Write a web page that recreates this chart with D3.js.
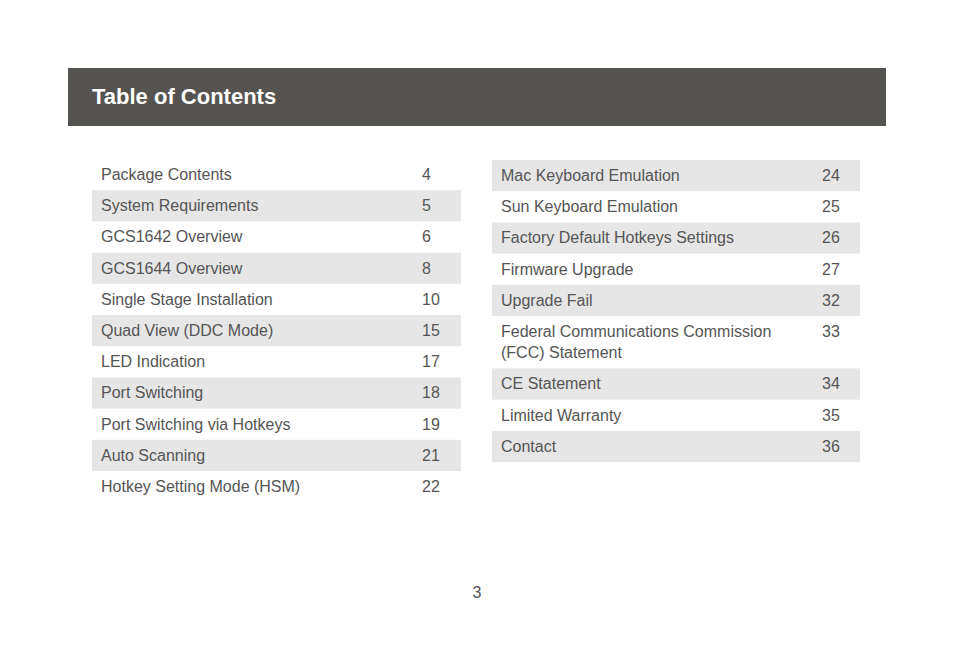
<!DOCTYPE html>
<html><head><meta charset="utf-8">
<script src="https://cdn.jsdelivr.net/npm/d3@7"></script>
<style>body{margin:0;background:#fff}text{font-family:"Liberation Sans",Arial,sans-serif}</style>
</head><body>
<svg id="page" width="954" height="665"></svg>
<script>
// left column entries
var leftTitles = ["Package Contents", "System Requirements", "GCS1642 Overview", "GCS1644 Overview",
  "Single Stage Installation", "Quad View (DDC Mode)", "LED Indication", "Port Switching",
  "Port Switching via Hotkeys", "Auto Scanning", "Hotkey Setting Mode (HSM)"];
var leftPages = [4, 5, 6, 8, 10, 15, 17, 18, 19, 21, 22];

// right column entries
var rightTitles = ["Mac Keyboard Emulation", "Sun Keyboard Emulation", "Factory Default Hotkeys Settings",
  "Firmware Upgrade", "Upgrade Fail", "Federal Communications Commission\n(FCC) Statement",
  "CE Statement", "Limited Warranty", "Contact"];
var rightPages = [24, 25, 26, 27, 32, 33, 34, 35, 36];

var svg = d3.select("#page");

svg.append("rect").attr("x", 68).attr("y", 68).attr("width", 818).attr("height", 58).attr("fill", "#55534f");
svg.append("text").attr("x", 92).attr("y", 104).attr("fill", "#fff")
  .attr("font-size", 22).attr("font-weight", "bold").text("Table of Contents");

/**
* draws one column of rows; shadeFirst decides which rows get the grey band
*/
function column(titles, pages, x0, x1, top, numX, shadeFirst) {
  var units = titles.map(function(t) { return t.split("\n").length; });
  var offs = [0];
  units.forEach(function(u, i) { offs.push(offs[i] + (u === 1 ? 1 : 1.68)); });
  var y = d3.scaleLinear().domain([0, 1]).range([top, top + 31.2]);

  var g = svg.append("g");
  titles.forEach(function(t, i) {
    var r = g.append("g");
    if ((i % 2 === 0) === shadeFirst) {
      r.append("rect").attr("x", x0).attr("y", y(offs[i])).attr("width", x1 - x0)
        .attr("height", y(offs[i + 1]) - y(offs[i])).attr("fill", "#e6e6e6");
    }
    t.split("\n").forEach(function(line, k) {
      r.append("text").attr("x", x0 + 9).attr("y", y(offs[i]) + 21 + k * 21)
        .attr("font-size", 16).attr("fill", "#555").text(line);
    });
    r.append("text").attr("x", numX).attr("y", y(offs[i]) + 21)
      .attr("font-size", 16).attr("fill", "#555").text(pages[i]);
  });
}

column(leftTitles, leftPages, 92, 461, 159, 422, false);
column(rightTitles, rightPages, 492, 860, 160, 822, true);

svg.append("text").attr("x", 477).attr("y", 598).attr("text-anchor", "middle")
  .attr("font-size", 16).attr("fill", "#555").text("3");
</script>
</body></html>
